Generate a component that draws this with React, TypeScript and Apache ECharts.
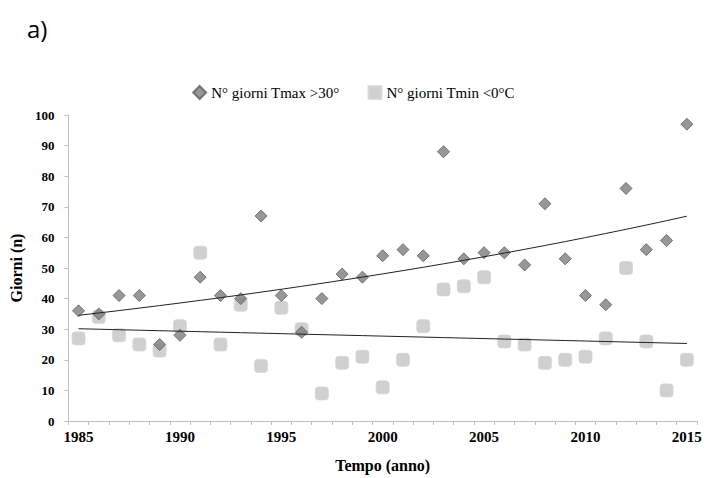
import React, { useEffect, useRef } from "react";
import * as echarts from "echarts";

const years = [
  "1985", "1986", "1987", "1988", "1989", "1990", "1991", "1992", "1993", "1994",
  "1995", "1996", "1997", "1998", "1999", "2000", "2001", "2002", "2003", "2004",
  "2005", "2006", "2007", "2008", "2009", "2010", "2011", "2012", "2013", "2014", "2015",
];
const tmaxDays = [36, 35, 41, 41, 25, 28, 47, 41, 40, 67, 41, 29, 40, 48, 47, 54, 56, 54, 88, 53, 55, 55, 51, 71, 53, 41, 38, 76, 56, 59, 97];
const tminDays = [27, 34, 28, 25, 23, 31, 55, 25, 38, 18, 37, 30, 9, 19, 21, 11, 20, 31, 43, 44, 47, 26, 25, 19, 20, 21, 27, 50, 26, 10, 20];
const seriesNames = ["N° giorni Tmax >30°", "N° giorni Tmin <0°C"];

function fit(xs: number[], ys: number[]) {
  const n = xs.length;
  let sx = 0, sy = 0, sxx = 0, sxy = 0;
  for (let i = 0; i < n; i++) {
    sx += xs[i]; sy += ys[i]; sxx += xs[i] * xs[i]; sxy += xs[i] * ys[i];
  }
  const b = (n * sxy - sx * sy) / (n * sxx - sx * sx);
  const a = (sy - b * sx) / n;
  return { a, b };
}

// Exponential trend (least squares on ln y)
function expTrend(values: number[]): number[] {
  const xs = values.map((_, i) => i);
  const { a, b } = fit(xs, values.map((v) => Math.log(v)));
  return xs.map((i) => +Math.exp(a + b * i).toFixed(3));
}

// Linear trend (least squares)
function linTrend(values: number[]): number[] {
  const xs = values.map((_, i) => i);
  const { a, b } = fit(xs, values);
  return xs.map((i) => +(a + b * i).toFixed(3));
}

const serif = "'Liberation Serif', 'Times New Roman', serif";

export default function App() {
  const ref = useRef<HTMLDivElement>(null);
  useEffect(() => {
    if (!ref.current) return;
    const chart = echarts.init(ref.current, null, { renderer: "svg" });
    chart.setOption({
      animation: false,
      backgroundColor: "#ffffff",
      graphic: [
        {
          type: "text",
          left: 27,
          top: 16,
          style: { text: "a)", font: "24px 'Open Sans', sans-serif", fill: "#000" },
        },
      ],
      legend: {
        data: [
          { name: seriesNames[0], icon: "diamond" },
          { name: seriesNames[1], icon: "rect" },
        ],
        top: 80,
        left: "center",
        itemWidth: 13,
        itemHeight: 13,
        itemGap: 28,
        textStyle: { fontFamily: serif, fontSize: 15, color: "#000" },
      },
      grid: { left: 67, right: 10, top: 115, bottom: 51, containLabel: false },
      xAxis: {
        type: "category",
        data: years,
        boundaryGap: true,
        name: "Tempo (anno)",
        nameLocation: "middle",
        nameGap: 36,
        nameTextStyle: { fontFamily: serif, fontSize: 16, fontWeight: "bold", color: "#000" },
        axisLine: { lineStyle: { color: "#bfbfbf" } },
        axisTick: { show: true, interval: 0, length: 4, lineStyle: { color: "#bfbfbf" } },
        axisLabel: {
          interval: 4,
          fontFamily: serif,
          fontSize: 15,
          fontWeight: "bold",
          color: "#000",
          margin: 8,
        },
        splitLine: { show: false },
      },
      yAxis: {
        type: "value",
        min: 0,
        max: 100,
        interval: 10,
        name: "Giorni (n)",
        nameLocation: "middle",
        nameGap: 40,
        nameTextStyle: { fontFamily: serif, fontSize: 16, fontWeight: "bold", color: "#000" },
        axisLine: { show: true, lineStyle: { color: "#bfbfbf" } },
        axisTick: { show: true, length: 4, lineStyle: { color: "#bfbfbf" } },
        axisLabel: { fontFamily: serif, fontSize: 13, fontWeight: "bold", color: "#000", margin: 14 },
        splitLine: { show: false },
      },
      series: [
        {
          name: seriesNames[1],
          type: "scatter",
          data: tminDays,
          symbol: "roundRect",
          symbolSize: 13,
          itemStyle: { color: "#c4c4c4", borderColor: "#d6d6d6", borderWidth: 1 },
          z: 3,
        },
        {
          name: seriesNames[0],
          type: "scatter",
          data: tmaxDays,
          symbol: "diamond",
          symbolSize: 12,
          itemStyle: { color: "#7d7d7d", borderColor: "#5e5e5e", borderWidth: 1 },
          z: 4,
        },
        {
          name: "trend Tmax",
          type: "line",
          data: expTrend(tmaxDays),
          showSymbol: false,
          symbol: "none",
          lineStyle: { color: "#222", width: 1 },
          z: 5,
        },
        {
          name: "trend Tmin",
          type: "line",
          data: linTrend(tminDays),
          showSymbol: false,
          symbol: "none",
          lineStyle: { color: "#222", width: 1 },
          z: 5,
        },
      ],
    });
    return () => chart.dispose();
  }, []);
  return (
    <div
      ref={ref}
      style={{ position: "fixed", left: 0, top: 0, width: 707, height: 478, background: "#fff" }}
    />
  );
}
